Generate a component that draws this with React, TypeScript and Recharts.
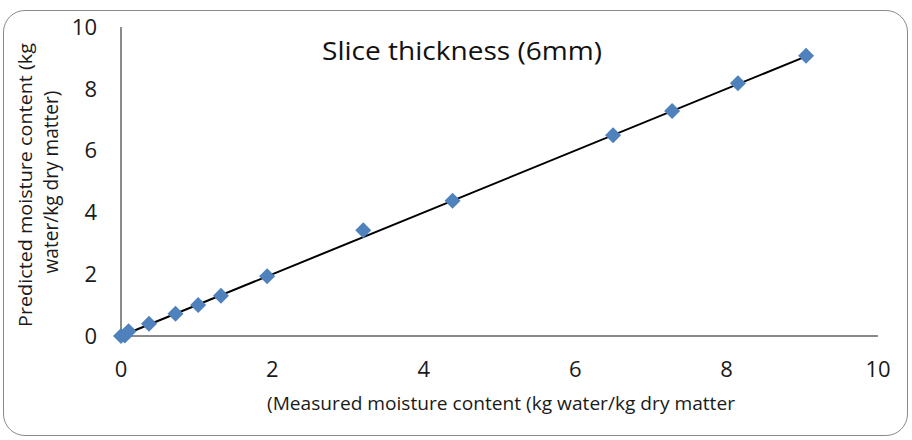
import React from "react";
import { XAxis, YAxis, Line, Scatter, ComposedChart } from "recharts";

const measured = [0, 0.05, 0.1, 0.37, 0.72, 1.02, 1.32, 1.93, 3.2, 4.38, 6.5, 7.28, 8.15, 9.05];
const predicted = [0, 0.02, 0.15, 0.4, 0.72, 1.0, 1.3, 1.93, 3.42, 4.38, 6.5, 7.28, 8.18, 9.07];
const fitX = [0, 9.05];
const fitY = [0, 9.05];
const ticks = [0, 2, 4, 6, 8, 10];

const points = measured.map((x, i) => ({ x, y: predicted[i] }));
const fit = fitX.map((x, i) => ({ x, y: fitY[i] }));

const FONT = "'Open Sans', 'Noto Sans', sans-serif";

const Diamond = (props: any) => {
  const { cx, cy } = props;
  const r = 8;
  return (
    <polygon
      points={`${cx},${cy - r} ${cx + r},${cy} ${cx},${cy + r} ${cx - r},${cy}`}
      fill="#4F81BD"
    />
  );
};

const YLabel = () => {
  return (
    <g>
      <text x={25} y={185} transform={`rotate(-90, 25, 185)`} textAnchor="middle" dominantBaseline="central" fontSize={19} fill="#1a1a1a" fontFamily={FONT} textLength={284} lengthAdjust="spacingAndGlyphs">
        Predicted moisture content (kg
      </text>
      <text x={50} y={182} transform={`rotate(-90, 50, 182)`} textAnchor="middle" dominantBaseline="central" fontSize={20} fill="#1a1a1a" fontFamily={FONT} textLength={183} lengthAdjust="spacingAndGlyphs">
        water/kg dry matter)
      </text>
    </g>
  );
};

const XLabel = () => (
  <g>
    <text x={501} y={403} textAnchor="middle" dominantBaseline="central" fontSize={19} fill="#1a1a1a" fontFamily={FONT} textLength={468} lengthAdjust="spacingAndGlyphs">
      (Measured moisture content (kg water/kg dry matter
    </text>
    <text x={462} y={50} textAnchor="middle" dominantBaseline="central" fontSize={26} fill="#111" fontFamily={FONT} textLength={280} lengthAdjust="spacingAndGlyphs">
      Slice thickness (6mm)
    </text>
  </g>
);

export default function App() {
  return (
    <div style={{ position: "absolute", left: 0, top: 0, width: 912, height: 440, background: "#fff" }}>
      <div
        style={{
          position: "absolute",
          left: 3,
          top: 10,
          width: 905,
          height: 426,
          border: "1.5px solid #8a8a8a",
          borderRadius: 22,
          boxSizing: "border-box",
        }}
      />
      <div style={{ position: "absolute", left: 0, top: 0 }}>
        <ComposedChart width={912} height={440} margin={{ top: 27, right: 34, bottom: 0, left: 0 }}>
          <XAxis
            type="number"
            dataKey="x"
            domain={[0, 10]}
            ticks={ticks}
            tickLine={false}
            axisLine={{ stroke: "#8a8a8a", strokeWidth: 2 }}
            tick={{ fontSize: 22, fill: "#1a1a1a", fontFamily: FONT }}
            tickMargin={19}
            height={104}
            label={<XLabel />}
          />
          <YAxis
            type="number"
            dataKey="y"
            domain={[0, 10]}
            ticks={ticks}
            tickLine={false}
            axisLine={{ stroke: "#8a8a8a", strokeWidth: 2 }}
            tick={{ fontSize: 22, fill: "#1a1a1a", fontFamily: FONT }}
            tickMargin={18}
            width={121}
            label={<YLabel />}
          />
          <Scatter data={points} shape={<Diamond />} isAnimationActive={false} />
          <Line data={fit} dataKey="y" stroke="#000" strokeWidth={2} dot={false} isAnimationActive={false} />
        </ComposedChart>
      </div>
    </div>
  );
}
